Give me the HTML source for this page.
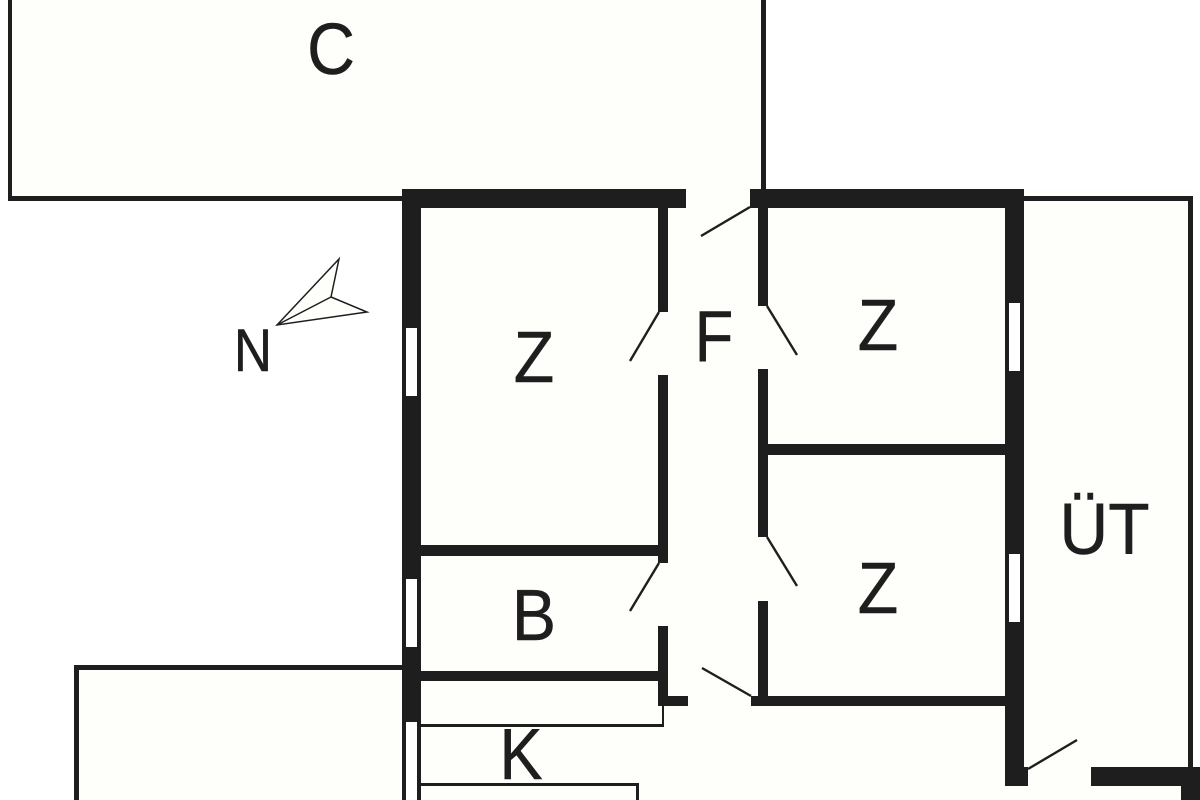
<!DOCTYPE html>
<html>
<head>
<meta charset="utf-8">
<style>
html,body{margin:0;padding:0;background:#fff;width:1200px;height:800px;overflow:hidden}
svg{display:block}
text{font-family:"Liberation Sans",sans-serif;font-size:72px;fill:#1e1e1e;stroke:#1e1e1e;stroke-width:.5px;text-anchor:middle}
</style>
</head>
<body>
<svg width="1200" height="800" viewBox="0 0 1200 800" xmlns="http://www.w3.org/2000/svg">
<rect width="1200" height="800" fill="#ffffff"/>
<!-- cream floors -->
<g fill="#fefffa">
<rect x="10" y="0" width="753" height="199"/>
<rect x="402" y="189" width="790" height="611"/>
<rect x="76" y="667" width="330" height="133"/>
</g>
<g fill="#1e1e1e">
<!-- C outline -->
<rect x="8" y="0" width="4" height="201"/>
<rect x="8" y="196" width="396" height="5"/>
<rect x="761" y="0" width="5" height="192"/>
<!-- top walls -->
<rect x="402" y="189" width="284" height="19"/>
<rect x="750" y="189" width="274" height="19"/>
<!-- left wall -->
<rect x="402" y="189" width="19" height="533"/>
<rect x="402" y="720" width="4" height="80"/>
<rect x="417" y="720" width="4" height="80"/>
<!-- mid left wall -->
<rect x="658" y="208" width="10" height="104"/>
<rect x="658" y="375" width="10" height="188"/>
<rect x="658" y="626" width="10" height="80"/>
<!-- mid right wall -->
<rect x="758" y="208" width="10" height="98"/>
<rect x="758" y="369" width="10" height="168"/>
<rect x="758" y="601" width="10" height="105"/>
<!-- horizontals -->
<rect x="421" y="545" width="237" height="11"/>
<rect x="421" y="671" width="237" height="10"/>
<rect x="768" y="444" width="237" height="11"/>
<rect x="658" y="696" width="30" height="10"/>
<rect x="751" y="696" width="254" height="10"/>
<!-- right wall -->
<rect x="1005" y="189" width="19" height="597"/>
<rect x="1005" y="767" width="23" height="19"/>
<!-- UT outline -->
<rect x="1024" y="196" width="169" height="5"/>
<rect x="1188" y="196" width="5" height="572"/>
<rect x="1091" y="767" width="109" height="19"/>
<rect x="1181" y="785" width="19" height="15"/>
<!-- lower left outline -->
<rect x="74" y="665" width="5" height="135"/>
<rect x="74" y="665" width="328" height="5"/>
<!-- K outlines -->
<rect x="421" y="724" width="243" height="3"/>
<rect x="662" y="706" width="2" height="21"/>
<rect x="421" y="783" width="218" height="3"/>
<rect x="636" y="783" width="3" height="17"/>
</g>
<!-- windows -->
<g fill="#ffffff">
<rect x="406" y="328" width="11" height="68"/>
<rect x="406" y="579" width="11" height="68"/>
<rect x="406" y="722" width="11" height="78"/>
<rect x="1009" y="303" width="11" height="68"/>
<rect x="1009" y="554" width="11" height="68"/>
</g>
<!-- door swings -->
<g stroke="#1e1e1e" stroke-width="2.4" fill="none">
<line x1="750" y1="207" x2="701" y2="236"/>
<line x1="659" y1="312" x2="630" y2="361"/>
<line x1="767" y1="306" x2="797" y2="355"/>
<line x1="659" y1="563" x2="630" y2="611"/>
<line x1="767" y1="537" x2="797" y2="586"/>
<line x1="751" y1="696" x2="702" y2="668"/>
<line x1="1028" y1="769" x2="1077" y2="740"/>
</g>
<!-- north arrow -->
<g stroke="#1e1e1e" stroke-width="1.5" fill="#fefffa" stroke-linejoin="miter">
<polygon points="277,325 339,259 331,297 367,312"/>
<line x1="277" y1="325" x2="331" y2="297"/>
</g>
<!-- labels -->
<text transform="translate(331,74) scale(.92,1)">C</text>
<text transform="translate(534,382) scale(.92,1)">Z</text>
<text transform="translate(714,361) scale(.88,1)">F</text>
<text transform="translate(878,350) scale(.92,1)">Z</text>
<text transform="translate(878,613) scale(.92,1)">Z</text>
<text transform="translate(534,640) scale(.92,1)">B</text>
<text transform="translate(521,779) scale(.9,1)">K</text>
<text transform="translate(1104.5,554) scale(.94,1)">ÜT</text>
<text transform="translate(253,371) scale(.88,1)" style="font-size:60px">N</text>
</svg>
</body>
</html>
